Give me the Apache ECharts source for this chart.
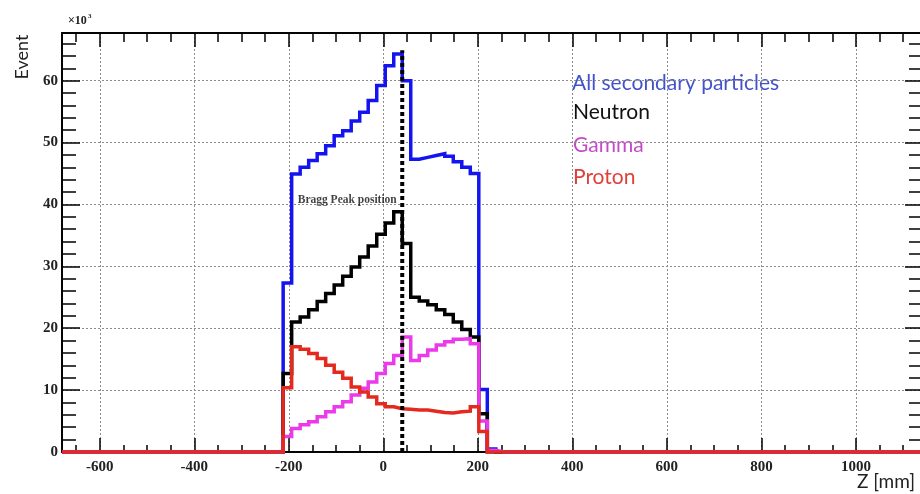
<!DOCTYPE html>
<html>
<head>
<meta charset="utf-8">
<title>Secondary particles along Z</title>
<script src="https://cdn.jsdelivr.net/npm/echarts@6/dist/echarts.min.js"></script>
<style>
  html, body { margin: 0; padding: 0; background: #fff; }
  #main { width: 920px; height: 494px; }
</style>
</head>
<body>
<div id="main"></div>
<script>
// Z range of the histogram (mm), bins of 18 mm, counts in units of 10^3
var zMin = -680, zMax = 1142;
var binLow = -212, binWidth = 18;
var braggZ = 40, braggTop = 64.9, braggLabelY = 40.7;
var yMax = 67.7;

// one value per bin, starting at binLow
var allSecondary = [27.3, 44.9, 46.0, 47.1, 48.2, 49.5, 51.1, 51.9, 53.5, 54.9, 56.8, 59.2, 62.4, 64.3,
                    60.0, 47.3, 47.6, 47.9, 48.2, 47.8, 46.9, 46.0, 45.0, 10.1, 0.5, 0];
var neutron = [12.7, 21.0, 21.8, 23.0, 24.3, 25.6, 27.0, 28.4, 29.9, 31.5, 33.3, 35.2, 37.0, 38.8,
               33.7, 25.0, 24.4, 23.8, 23.0, 22.2, 21.0, 19.8, 18.6, 6.2, 0, 0];
var gamma = [2.5, 3.8, 4.4, 4.9, 5.7, 6.5, 7.3, 8.1, 9.2, 10.3, 11.3, 12.7, 14.3, 15.6,
             18.6, 14.8, 15.6, 16.5, 17.3, 17.8, 18.2, 18.3, 17.5, 5.0, 0.3, 0];
var proton = [10.4, 17.0, 16.6, 15.9, 15.1, 14.0, 12.9, 11.9, 10.5, 9.7, 8.9, 7.8, 7.3, 7.0,
              6.9, 6.8, 6.8, 6.6, 6.4, 6.3, 6.5, 6.6, 7.3, 3.3, 0, 0];

var xMajor = [-600, -400, -200, 0, 200, 400, 600, 800, 1000];
var yMajor = [0, 10, 20, 30, 40, 50, 60];

var xMinor = [];
for (var v = -650; v <= 1100; v += 50) { if (v % 200 !== 0) xMinor.push(v); }
var yMinor = [];
for (var w = 2; w < yMax; w += 2) { if (w % 10 !== 0) yMinor.push(w); }

function histPoints(vals) {
  var pts = [[zMin, 0]];
  for (var i = 0; i < vals.length; i++) pts.push([binLow + i * binWidth, vals[i]]);
  pts.push([binLow + vals.length * binWidth, 0]);
  pts.push([zMax, 0]);
  return pts;
}

var labelFont = { fontFamily: 'Liberation Serif', fontWeight: 'bold', fontSize: 15, color: '#222' };
var gridLine = { show: true, lineStyle: { color: '#8c8c8c', type: [2, 2], width: 1 } };
var black = { color: '#000', width: 1.5 };

function xAxisDef(pos, ticks, len, labels) {
  return {
    type: 'value', min: zMin, max: zMax, position: pos,
    axisLine: { show: true, onZero: false, lineStyle: black },
    axisTick: { show: true, inside: true, length: len, customValues: ticks, lineStyle: black },
    axisLabel: labels ? Object.assign({ show: true, customValues: ticks, margin: 8, formatter: function (val) { return String(val); } }, labelFont) : { show: false },
    splitLine: labels ? gridLine : { show: false }
  };
}
function yAxisDef(pos, ticks, len, labels) {
  return {
    type: 'value', min: 0, max: yMax, position: pos,
    axisLine: { show: true, onZero: false, lineStyle: black },
    axisTick: { show: true, inside: true, length: len, customValues: ticks, lineStyle: black },
    axisLabel: labels ? Object.assign({ show: true, customValues: ticks, margin: 4 }, labelFont) : { show: false },
    splitLine: labels ? gridLine : { show: false }
  };
}

function histSeries(name, vals, color) {
  return {
    name: name, type: 'line', step: 'end', data: histPoints(vals),
    xAxisIndex: 0, yAxisIndex: 0, symbol: 'none', showSymbol: false,
    lineStyle: { color: color, width: 3.5, join: 'miter' }, z: 3
  };
}

var chart = echarts.init(document.getElementById('main'));
chart.setOption({
  animation: false,
  backgroundColor: '#fff',
  grid: { left: 62, top: 33, right: -3, bottom: 42, show: true, borderColor: '#000', borderWidth: 1.5, outerBoundsMode: 'none' },
  xAxis: [
    xAxisDef('bottom', xMajor, 14, true),
    xAxisDef('bottom', xMinor, 7, false),
    xAxisDef('top', xMajor, 14, false),
    xAxisDef('top', xMinor, 9, false)
  ],
  yAxis: [
    yAxisDef('left', yMajor, 18, true),
    yAxisDef('left', yMinor, 14, false),
    yAxisDef('right', yMajor, 18, false),
    yAxisDef('right', yMinor, 14, false)
  ],
  series: [
    histSeries('All secondary particles', allSecondary, '#1414ee'),
    histSeries('Neutron', neutron, '#000000'),
    histSeries('Gamma', gamma, '#ea3aea'),
    histSeries('Proton', proton, '#e42a1e'),
    {
      name: 'Bragg Peak position', type: 'line', data: [[braggZ, 0], [braggZ, braggTop]],
      symbol: 'none', z: 5,
      lineStyle: { color: '#000', width: 4, type: [4, 3], cap: 'butt' }
    },
    {
      type: 'scatter', data: [[braggZ, braggLabelY]], symbolSize: 1, z: 6,
      itemStyle: { color: 'rgba(0,0,0,0)' },
      label: {
        show: true, position: 'left', distance: 5, formatter: 'Bragg Peak position',
        fontFamily: 'Liberation Serif', fontWeight: 'bold', fontSize: 11.5, color: '#111'
      }
    }
  ],
  graphic: [
    { type: 'text', x: 572, y: 83, style: { text: 'All secondary particles', fill: '#4252cc', font: '21px Lato', verticalAlign: 'middle', textVerticalAlign: 'middle' } },
    { type: 'text', x: 573, y: 112, style: { text: 'Neutron', fill: '#111111', font: '21px Lato', verticalAlign: 'middle', textVerticalAlign: 'middle' } },
    { type: 'text', x: 573, y: 145, style: { text: 'Gamma', fill: '#c64ac6', font: '21px Lato', verticalAlign: 'middle', textVerticalAlign: 'middle' } },
    { type: 'text', x: 573, y: 177, style: { text: 'Proton', fill: '#e0403a', font: '21px Lato', verticalAlign: 'middle', textVerticalAlign: 'middle' } },
    { type: 'text', x: 22, y: 57, rotation: Math.PI / 2, style: { text: 'Event', fill: '#222', font: '18px Lato', align: 'center', verticalAlign: 'middle', textAlign: 'center', textVerticalAlign: 'middle' } },
    { type: 'text', x: 68, y: 21, style: { text: '×10', fill: '#222', font: 'bold 12px "Liberation Serif"', verticalAlign: 'middle', textVerticalAlign: 'middle' } },
    { type: 'text', x: 88, y: 16, style: { text: '3', fill: '#222', font: 'bold 7px "Liberation Serif"', verticalAlign: 'middle', textVerticalAlign: 'middle' } },
    { type: 'text', x: 857, y: 482, style: { text: 'Z [mm]', fill: '#222', font: '19px Lato', verticalAlign: 'middle', textVerticalAlign: 'middle' } }
  ]
});
</script>
</body>
</html>
